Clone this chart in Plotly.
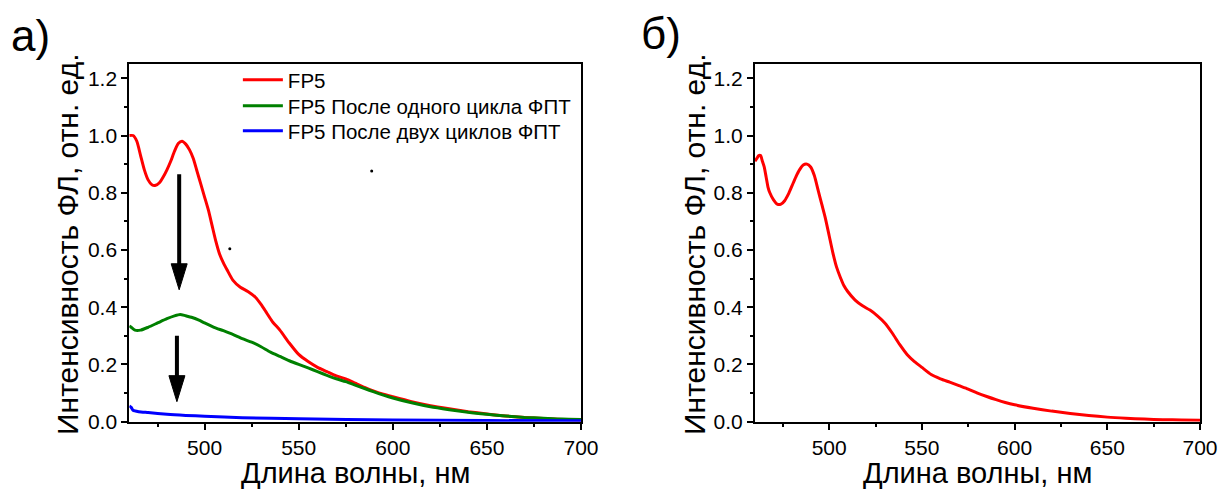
import plotly.graph_objects as go

# ---------------- data ----------------
# Panel a) FP5 (red)
wl_red_a = [460, 462, 464, 466, 468, 470, 472, 474, 476, 478, 480, 482, 484, 486, 488,
            490, 492, 494, 496, 498, 500, 502, 504, 506, 508, 510, 512, 515, 519, 523,
            527, 530, 533, 536, 540, 545, 550, 555, 560, 565, 570, 575, 580, 585, 590,
            595, 600, 610, 620, 630, 640, 650, 660, 670, 680, 690, 700]
int_red_a = [1.0, 1.0, 0.98, 0.93, 0.88, 0.845, 0.828, 0.826, 0.835, 0.855, 0.88, 0.91, 0.945, 0.972, 0.98,
             0.97, 0.95, 0.92, 0.875, 0.83, 0.785, 0.74, 0.685, 0.63, 0.585, 0.555, 0.53, 0.495, 0.47, 0.455,
             0.435, 0.41, 0.38, 0.35, 0.32, 0.275, 0.235, 0.21, 0.19, 0.175, 0.16, 0.15, 0.135, 0.12, 0.107,
             0.096, 0.087, 0.07, 0.056, 0.045, 0.035, 0.027, 0.02, 0.015, 0.011, 0.008, 0.006]

# Panel a) after one cycle (green)
wl_green_a = [460, 461, 463, 466, 470, 475, 480, 484, 487, 490, 493, 497, 500, 505, 510,
              515, 520, 525, 530, 535, 540, 545, 550, 555, 560, 565, 570, 575, 580, 585,
              590, 595, 600, 610, 620, 630, 640, 650, 660, 670, 680, 690, 700]
int_green_a = [0.335, 0.33, 0.32, 0.32, 0.33, 0.345, 0.36, 0.37, 0.375, 0.37, 0.365, 0.355, 0.345, 0.33, 0.318,
               0.305, 0.29, 0.278, 0.262, 0.243, 0.228, 0.213, 0.2, 0.188, 0.175, 0.162, 0.15, 0.14, 0.128, 0.116,
               0.104, 0.093, 0.083, 0.066, 0.052, 0.042, 0.033, 0.026, 0.02, 0.015, 0.012, 0.009, 0.008]

# Panel a) after two cycles (blue)
wl_blue_a = [460, 461, 462, 465, 470, 480, 490, 500, 520, 550, 600, 650, 700]
int_blue_a = [0.055, 0.05, 0.04, 0.035, 0.032, 0.026, 0.022, 0.019, 0.014, 0.01, 0.006, 0.004, 0.003]

# Panel б) FP5 (red)
wl_red_b = [460, 461, 462, 463, 464, 465, 466, 467, 468, 470, 472, 474, 476, 478, 480,
            482, 484, 486, 488, 490, 492, 494, 496, 498, 500, 502, 504, 506, 508, 510,
            514, 518, 522, 526, 530, 534, 538, 542, 546, 550, 555, 560, 565, 570, 575,
            580, 585, 590, 595, 600, 610, 620, 630, 640, 650, 660, 670, 680, 690, 700]
int_red_b = [0.91, 0.92, 0.93, 0.93, 0.91, 0.89, 0.855, 0.82, 0.80, 0.775, 0.76, 0.76, 0.772, 0.795, 0.825,
             0.855, 0.88, 0.897, 0.90, 0.89, 0.86, 0.81, 0.76, 0.71, 0.65, 0.59, 0.54, 0.505, 0.475, 0.455,
             0.425, 0.405, 0.39, 0.37, 0.345, 0.31, 0.27, 0.235, 0.21, 0.19, 0.165, 0.15, 0.138, 0.126, 0.114,
             0.1, 0.088, 0.077, 0.067, 0.059, 0.047, 0.037, 0.029, 0.022, 0.016, 0.012, 0.009, 0.007, 0.006, 0.005]

series_names = ["FP5", "FP5 После одного цикла ФПТ", "FP5 После двух циклов ФПТ"]
series_colors = ["#ff0000", "#008000", "#0000ff"]

# arrows in panel a): x, start y, tip y
arrow_x = [486.5, 485.3]
arrow_y_start = [0.865, 0.30]
arrow_y_tip = [0.461, 0.07]

# stray dots in panel a)
dot_x = [588.8, 513.4]
dot_y = [0.876, 0.604]

x_range = [460, 700]
y_range = [0, 1.25]
x_title = "Длина волны, нм"
y_title = "Интенсивность ФЛ, отн. ед."
panel_labels = ["а)", "б)"]

FONT = "Arial, 'Liberation Sans', sans-serif"
W, H = 1223, 492

# ---------------- figure ----------------
fig = go.Figure()
legend_ids = ["legend", "legend2", "legend3"]
for wl, val, name, col, lg in zip([wl_red_a, wl_green_a, wl_blue_a],
                                  [int_red_a, int_green_a, int_blue_a],
                                  series_names, series_colors, legend_ids):
    fig.add_trace(go.Scatter(x=wl, y=val, mode="lines", name=name, legend=lg,
                             line=dict(color=col, width=3, shape="spline", smoothing=0.6),
                             xaxis="x", yaxis="y"))
fig.add_trace(go.Scatter(x=wl_red_b, y=int_red_b, mode="lines", name="FP5",
                         line=dict(color="#ff0000", width=3, shape="spline", smoothing=0.6),
                         showlegend=False, xaxis="x2", yaxis="y2"))
fig.add_trace(go.Scatter(x=dot_x, y=dot_y, mode="markers", marker=dict(color="black", size=3),
                         showlegend=False, hoverinfo="skip", xaxis="x", yaxis="y"))

dom_a = [129.3 / W, 581 / W]
dom_b = [755 / W, 1200 / W]
dom_y = [(H - 421.7) / H, (H - 64) / H]

axis_common = dict(showline=True, linewidth=2, linecolor="black", mirror=True,
                   ticks="outside", ticklen=6, tickwidth=2, tickcolor="black",
                   showgrid=False, zeroline=False, automargin=False,
                   tickfont=dict(family=FONT, size=21, color="black"))

xa = dict(axis_common, range=x_range, tickmode="linear", tick0=500, dtick=50,
          minor=dict(dtick=25, tick0=475, ticks="outside", ticklen=3, tickwidth=2, tickcolor="black"))
ya = dict(axis_common, range=y_range, tickmode="linear", tick0=0, dtick=0.2, tickformat=".1f",
          minor=dict(dtick=0.1, tick0=0, ticks="outside", ticklen=3, tickwidth=2, tickcolor="black"))

legend_style = dict(xanchor="left", yanchor="middle", bgcolor="rgba(0,0,0,0)",
                    font=dict(family=FONT, size=20.5, color="black"), itemwidth=40)
legend_rows_px = [80, 106, 131]

fig.update_layout(
    width=W, height=H,
    margin=dict(l=0, r=0, t=0, b=0, pad=0, autoexpand=False),
    paper_bgcolor="white", plot_bgcolor="white",
    font=dict(family=FONT, color="black"),
    xaxis=dict(xa, domain=dom_a, anchor="y"),
    yaxis=dict(ya, domain=dom_y, anchor="x"),
    xaxis2=dict(xa, domain=dom_b, anchor="y2"),
    yaxis2=dict(ya, domain=dom_y, anchor="x2"),
    showlegend=True,
)
for lg, ypx in zip(legend_ids, legend_rows_px):
    fig.update_layout({lg: dict(legend_style, x=0.1945, y=(H - ypx) / H)})

annotations = []
shapes = []
# arrows
for ax_, ys, yt in zip(arrow_x, arrow_y_start, arrow_y_tip):
    shapes.append(dict(type="line", xref="x", yref="y", x0=ax_, x1=ax_, y0=ys, y1=yt + 0.06,
                       line=dict(color="black", width=4)))
    shapes.append(dict(type="path", xref="x", yref="y", xsizemode="pixel", ysizemode="pixel",
                       xanchor=ax_, yanchor=yt, path="M-8,26 L8,26 L0,0 Z",
                       fillcolor="black", line=dict(color="black", width=1)))

# axis titles
for xc, yc, in [(355, 473), (977.5, 473)]:
    annotations.append(dict(text=x_title, x=xc / W, y=(H - yc) / H, xref="paper", yref="paper",
                            showarrow=False, xanchor="center", yanchor="middle",
                            font=dict(family=FONT, size=29, color="black")))
for xc, yc in [(68, 245), (695, 245)]:
    annotations.append(dict(text=y_title, x=xc / W, y=(H - yc) / H, xref="paper", yref="paper",
                            showarrow=False, xanchor="center", yanchor="middle", textangle=-90,
                            font=dict(family=FONT, size=30, color="black")))
# panel labels
for lbl, xc, yc in zip(panel_labels, [30, 661], [36, 34]):
    annotations.append(dict(text=lbl, x=xc / W, y=(H - yc) / H, xref="paper", yref="paper",
                            showarrow=False, xanchor="center", yanchor="middle",
                            font=dict(family=FONT, size=44, color="black")))

fig.update_layout(annotations=annotations, shapes=shapes)
fig.write_html("out.html")
